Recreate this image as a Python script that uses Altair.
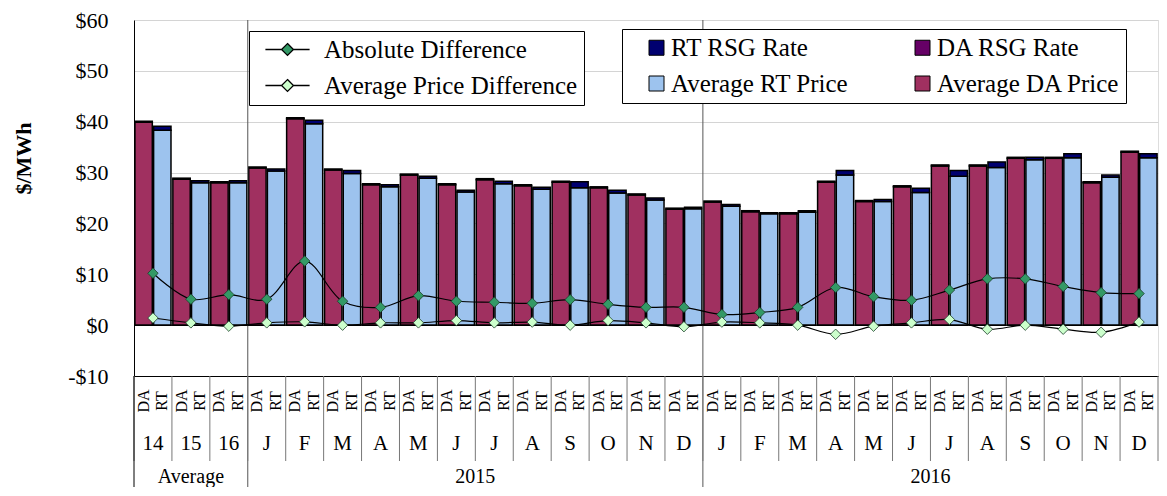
import altair as alt
import pandas as pd

# ---------------- data ----------------
group_keys = ["Avg14", "Avg15", "Avg16",
              "2015-01", "2015-02", "2015-03", "2015-04", "2015-05", "2015-06",
              "2015-07", "2015-08", "2015-09", "2015-10", "2015-11", "2015-12",
              "2016-01", "2016-02", "2016-03", "2016-04", "2016-05", "2016-06",
              "2016-07", "2016-08", "2016-09", "2016-10", "2016-11", "2016-12"]
group_labels = ["14", "15", "16",
                "J", "F", "M", "A", "M", "J", "J", "A", "S", "O", "N", "D",
                "J", "F", "M", "A", "M", "J", "J", "A", "S", "O", "N", "D"]

da_price = [39.9, 28.7, 28.0, 30.9, 40.6, 30.5, 27.6, 29.5, 27.6, 28.6, 27.4, 28.1, 27.0,
            25.6, 22.8, 24.2, 22.3, 21.9, 28.1, 24.3, 27.2, 31.3, 31.3, 32.8, 32.8, 28.0, 34.0]
da_rsg = [0.2, 0.2, 0.2, 0.2, 0.2, 0.2, 0.2, 0.2, 0.2, 0.2, 0.2, 0.2, 0.2,
          0.2, 0.2, 0.2, 0.2, 0.2, 0.2, 0.2, 0.2, 0.2, 0.2, 0.2, 0.2, 0.2, 0.2]
rt_price = [38.3, 28.0, 28.0, 30.3, 39.6, 29.8, 27.2, 28.9, 26.2, 27.8, 26.7, 27.0, 26.0,
            24.6, 22.9, 23.4, 21.9, 22.2, 29.5, 24.3, 26.1, 29.3, 31.0, 32.5, 32.9, 29.1, 32.9]
rt_rsg = [0.8, 0.4, 0.4, 0.4, 0.7, 0.6, 0.4, 0.4, 0.3, 0.5, 0.4, 1.2, 0.5,
          0.4, 0.3, 0.3, 0.2, 0.3, 0.9, 0.4, 0.8, 1.1, 1.1, 0.5, 0.8, 0.4, 0.8]
abs_diff = [10.2, 5.1, 6.0, 5.1, 12.6, 4.7, 3.5, 5.8, 4.7, 4.5, 4.3, 5.0, 4.1,
            3.5, 3.5, 2.1, 2.5, 3.5, 7.4, 5.6, 4.9, 6.9, 9.1, 9.1, 7.6, 6.4, 6.2]
avg_diff = [1.4, 0.45, -0.2, 0.45, 0.65, 0.0, 0.45, 0.45, 0.9, 0.45, 0.6, 0.0, 0.9,
            0.45, -0.3, 0.6, 0.45, 0.0, -1.8, -0.2, 0.45, 1.1, -0.8, 0.0, -0.8, -1.4, 0.6]

bar_series = ["RT RSG Rate", "DA RSG Rate", "Average RT Price", "Average DA Price"]
bar_colors = ["#000070", "#660066", "#9DC3EE", "#A03060"]
line_series = ["Absolute Difference", "Average Price Difference"]
line_colors = ["#339966", "#CCFFCC"]

year_groups = ["Avg15", "2015-07", "2016-07"]
year_labels = ["Average", "2015", "2016"]
year_band = [0.5, 0.0, 0.0]

# ---------------- tables ----------------
bar_rows = []
for i, k in enumerate(group_keys):
    bar_rows.append(dict(group=k, type="DA", series="Average DA Price", value=da_price[i], ord=0))
    bar_rows.append(dict(group=k, type="DA", series="DA RSG Rate", value=da_rsg[i], ord=1))
    bar_rows.append(dict(group=k, type="RT", series="Average RT Price", value=rt_price[i], ord=0))
    bar_rows.append(dict(group=k, type="RT", series="RT RSG Rate", value=rt_rsg[i], ord=1))
bars_df = pd.DataFrame(bar_rows)

line_rows = []
for i, k in enumerate(group_keys):
    line_rows.append(dict(group=k, series="Absolute Difference", value=abs_diff[i], idx=i))
    line_rows.append(dict(group=k, series="Average Price Difference", value=avg_diff[i], idx=i))
lines_df = pd.DataFrame(line_rows)

type_rows = []
for k in group_keys:
    type_rows.append(dict(group=k, type="DA"))
    type_rows.append(dict(group=k, type="RT"))
types_df = pd.DataFrame(type_rows)

groups_df = pd.DataFrame(dict(group=group_keys, label=group_labels))
sep_df = pd.DataFrame(dict(group=["2015-01", "2016-01"]))
first_df = pd.DataFrame(dict(group=[group_keys[0]]))
last_df = pd.DataFrame(dict(group=[group_keys[-1]]))
zero_df = pd.DataFrame(dict(z=[0]))

# ---------------- layout ----------------
TOP = 12
W, H = 1024, 368 - TOP
BOTTOM = 111
SERIF = "Liberation Serif"
EM = "\u2003"

xscale = alt.Scale(domain=group_keys, paddingInner=0, paddingOuter=0)
yscale = alt.Scale(domain=[-10, 60], nice=False, zero=False)

x_main = alt.X("group:N", scale=xscale,
               axis=alt.Axis(labels=False, ticks=False, domain=True, domainColor="black",
                             grid=False, title=None))
y_main = alt.Y("value:Q", scale=yscale, stack="zero",
               axis=alt.Axis(values=[-10, 0, 10, 20, 30, 40, 50, 60], grid=True,
                             gridColor="#d4d4d4", ticks=False, tickSize=0,
                             domainColor="black", labelFont=SERIF, labelFontSize=22,
                             labelColor="black", labelPadding=26,
                             labelExpr="datum.value < 0 ? '-$' + abs(datum.value) : '$' + datum.value",
                             title="$/MWh", titleFont=SERIF, titleFontSize=22,
                             titleFontWeight="bold", titleColor="black", titleAngle=270,
                             titleX=-111, titleY=158 - 8 - TOP, titleAlign="center",
                             titleBaseline="middle"))

sep_rules = alt.Chart(sep_df).mark_rule(color="#555", strokeWidth=1).encode(
    x=alt.X("group:N", scale=xscale, bandPosition=0),
    y=alt.value(0), y2=alt.value(H + BOTTOM))

bars = alt.Chart(bars_df).mark_bar(stroke="black", strokeWidth=1.5).encode(
    x=x_main,
    xOffset=alt.XOffset("type:N", scale=alt.Scale(domain=["DA", "RT"], paddingInner=0.07,
                                                   paddingOuter=0.05)),
    y=y_main,
    fill=alt.Fill("series:N", scale=alt.Scale(domain=bar_series, range=bar_colors),
                  legend=alt.Legend(title=None, orient="none", legendX=488,
                                    legendY=29 - 8 - TOP,
                                    columns=2, direction="horizontal",
                                    symbolType="square", symbolSize=225,
                                    symbolStrokeColor="black", symbolStrokeWidth=1,
                                    labelFont=SERIF, labelFontSize=25, labelColor="black",
                                    labelLimit=400, labelOffset=2, columnPadding=45,
                                    rowPadding=10, padding=6, strokeColor="black",
                                    fillColor="white", symbolOffset=16,
                                    labelExpr="datum.label + '" + EM + "'")),
    order=alt.Order("ord:Q", sort="ascending"))

zero_rule = alt.Chart(zero_df).mark_rule(color="black", strokeWidth=1.3).encode(
    y=alt.Y("z:Q", scale=yscale))

lines = alt.Chart(lines_df).mark_line(color="black", strokeWidth=1.2,
                                       interpolate="catmull-rom").encode(
    x=alt.X("group:N", scale=xscale),
    y=alt.Y("value:Q", scale=yscale),
    detail="series:N",
    order=alt.Order("idx:Q"))

diamond_path = "M-2.6,0H-0.7M0.7,0H2.6M0,-0.7L0.7,0L0,0.7L-0.7,0Z"
points = alt.Chart(lines_df).mark_point(shape="diamond", filled=True, size=110,
                                         stroke="#1a3d2a", strokeWidth=0.8,
                                         opacity=1).encode(
    x=alt.X("group:N", scale=xscale),
    y=alt.Y("value:Q", scale=yscale),
    color=alt.Color("series:N", scale=alt.Scale(domain=line_series, range=line_colors),
                    legend=alt.Legend(title=None, orient="none", legendX=115,
                                      legendY=31 - 8 - TOP,
                                      symbolType=diamond_path, symbolSize=289,
                                      symbolStrokeColor="black", symbolStrokeWidth=1.3,
                                      labelFont=SERIF, labelFontSize=25, labelColor="black",
                                      labelLimit=400, labelOffset=24, rowPadding=10,
                                      padding=6, strokeColor="black", fillColor="white",
                                      symbolOffset=20,
                                      labelExpr="datum.label + '" + EM + "'")))

cell_rules = alt.Chart(groups_df).mark_rule(color="#777", strokeWidth=1).encode(
    x=alt.X("group:N", scale=xscale, bandPosition=0),
    y=alt.value(H), y2=alt.value(H + 85))
end_rule = alt.Chart(last_df).mark_rule(color="#777", strokeWidth=1).encode(
    x=alt.X("group:N", scale=xscale, bandPosition=1),
    y=alt.value(H), y2=alt.value(H + 85))
left_rule = alt.Chart(first_df).mark_rule(color="black", strokeWidth=1).encode(
    x=alt.X("group:N", scale=xscale, bandPosition=0),
    y=alt.value(H), y2=alt.value(H + BOTTOM))

type_text = alt.Chart(types_df).mark_text(font=SERIF, fontSize=16, angle=270,
                                           align="center", baseline="middle",
                                           color="black").encode(
    x=alt.X("group:N", scale=xscale),
    xOffset=alt.XOffset("type:N"),
    y=alt.value(H + 25),
    text="type:N")

group_text = alt.Chart(groups_df).mark_text(font=SERIF, fontSize=21, align="center",
                                             baseline="middle", color="black").encode(
    x=alt.X("group:N", scale=xscale),
    y=alt.value(H + 68),
    text="label:N")

year_layers = []
for g, lab, bp in zip(year_groups, year_labels, year_band):
    df = pd.DataFrame(dict(group=[g], label=[lab]))
    year_layers.append(
        alt.Chart(df).mark_text(font=SERIF, fontSize=20, align="center",
                                baseline="middle", color="black").encode(
            x=alt.X("group:N", scale=xscale, bandPosition=bp),
            y=alt.value(H + 101),
            text="label:N"))

chart = alt.layer(
    bars, sep_rules, zero_rule, lines, points, cell_rules, end_rule, left_rule,
    type_text, group_text, *year_layers
).properties(
    width=W, height=H,
    autosize=alt.AutoSizeParams(type="none"),
    padding={"left": 126, "top": TOP, "right": 1, "bottom": BOTTOM},
).configure_view(stroke="#777", strokeWidth=1).configure(font=SERIF)

chart.save("out.html", embed_options={"renderer": "svg", "actions": False})
